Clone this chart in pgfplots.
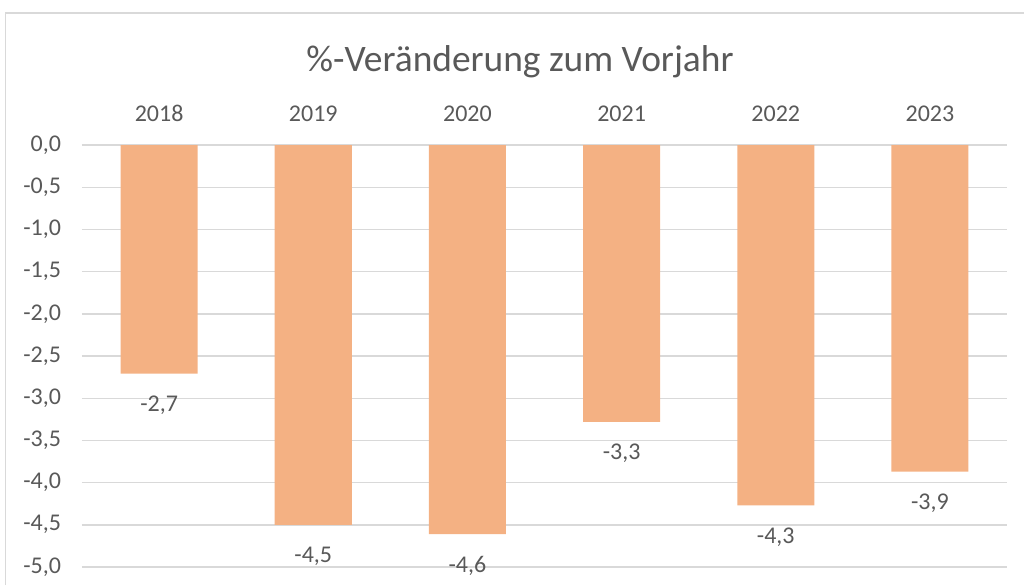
\documentclass[border=0pt]{standalone}
\usepackage{pgfplots}
\pgfplotsset{compat=1.18}
\usepackage{fontspec}
\setmainfont{Carlito}
\definecolor{barc}{HTML}{F4B183}
\definecolor{txt}{HTML}{595959}
\definecolor{gridc}{HTML}{D9D9D9}
\pgfplotsset{/pgf/number format/assume math mode=true}
\begin{document}
\begin{tikzpicture}
\useasboundingbox (0,0) rectangle (512pt,292.5pt);
\draw[gridc, line width=0.75pt] (2.75pt,0) -- (2.75pt,286pt) -- (512pt,286pt);
\node[txt, font=\fontsize{18.7}{22}\selectfont] at (260pt,261.5pt) {\%-Veränderung zum Vorjahr};
\begin{axis}[at={(41pt,9pt)}, anchor=south west, scale only axis,
  width=462.5pt, height=211pt,
  xmin=-0.5, xmax=5.5, ymin=-5, ymax=0,
  ybar, bar width=38.5pt,
  axis line style={draw=none},
  tick style={draw=none},
  xtick={0,1,2,3,4,5},
  xticklabels={2018,2019,2020,2021,2022,2023},
  xticklabel pos=upper,
  xticklabel style={font=\fontsize{12}{14}\selectfont, text=txt, yshift=4pt},
  ytick={0,-0.5,-1,-1.5,-2,-2.5,-3,-3.5,-4,-4.5,-5},
  yticklabel style={font=\fontsize{12}{14}\selectfont, text=txt, xshift=-7pt,
    /pgf/number format/.cd, fixed, fixed zerofill, precision=1, use comma},
  ymajorgrids, grid style={gridc, line width=0.7pt},
  nodes near coords={\pgfmathprintnumber[fixed,fixed zerofill,precision=1,use comma]{\pgfplotspointmeta}},
  every node near coord/.append style={font=\fontsize{12}{14}\selectfont, text=txt, anchor=north, yshift=-7.5pt},
]
\addplot[fill=barc, draw=none] coordinates {(0,-2.71) (1,-4.50) (2,-4.61) (3,-3.28) (4,-4.27) (5,-3.87)};
\end{axis}
\end{tikzpicture}
\end{document}
